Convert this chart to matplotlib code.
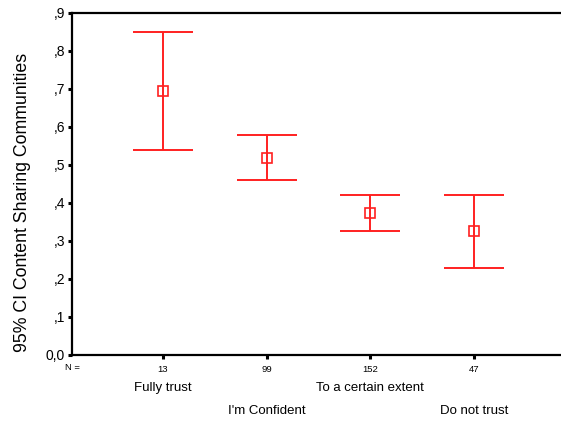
import matplotlib
matplotlib.use("Agg")
import matplotlib.pyplot as plt
from matplotlib.ticker import FixedLocator
from matplotlib.transforms import offset_copy, blended_transform_factory

plt.rcParams['font.family'] = ['Liberation Sans', 'DejaVu Sans']

categories = ["Fully trust", "I'm Confident", "To a certain extent", "Do not trust"]
n_values = ["13", "99", "152", "47"]
means = [0.696, 0.518, 0.374, 0.327]
lower = [0.539, 0.461, 0.327, 0.230]
upper = [0.849, 0.578, 0.421, 0.421]
yticks = [0.0, 0.1, 0.2, 0.3, 0.4, 0.5, 0.6, 0.7, 0.8, 0.9]
ytick_labels = ["0,0", ",1", ",2", ",3", ",4", ",5", ",6", ",7", ",8", ",9"]
ylabel = "95% CI Content Sharing Communities"

W, H = 561, 421
fig = plt.figure(figsize=(W / 100, H / 100), dpi=100)
left, right, top, bottom = 72, 561, 13, 355
ax = fig.add_axes([left / W, (H - bottom) / H, (right - left) / W, (bottom - top) / H])

xs = list(range(1, len(categories) + 1))
red = '#ff2020'
for x, m, lo, hi in zip(xs, means, lower, upper):
    ax.errorbar([x], [m], yerr=[[m - lo], [hi - m]], fmt='none', ecolor=red,
                elinewidth=1.4, capsize=21.5, capthick=1.4)
ax.plot(xs, means, linestyle='none', marker='s', markersize=7.5,
        markerfacecolor='none', markeredgecolor=red, markeredgewidth=1.2)

ax.set_xlim(1 - 91 / 103.67, 4 + 87 / 103.67)
ax.set_ylim(0, 0.9)

ax.spines['right'].set_visible(False)
for s in ['left', 'bottom', 'top']:
    ax.spines[s].set_linewidth(1.6)

ax.yaxis.set_major_locator(FixedLocator(yticks))
ax.set_yticklabels(ytick_labels, fontsize=10)
ax.tick_params(axis='y', length=3, width=2.2, pad=2)
ax.set_xticks(xs)
ax.set_xticklabels(n_values, fontsize=6.8)
ax.tick_params(axis='x', length=3, width=2.2, pad=4)

trans_n = offset_copy(ax.transAxes, fig=fig, x=0, y=-13, units='dots')
ax.text(0, 0, "N =", transform=trans_n, fontsize=6.8, ha='center', va='center')

for i, (x, cat) in enumerate(zip(xs, categories)):
    dy = -33 if i % 2 == 0 else -56
    tr = offset_copy(blended_transform_factory(ax.transData, ax.transAxes), fig=fig, x=0, y=dy, units='dots')
    ax.text(x, 0, cat, transform=tr, fontsize=9.5, ha='center', va='center')

fig.text(23 / W, (H - 202) / H, ylabel, rotation=90, fontsize=12.8, ha='center', va='center')

fig.savefig("out.png", dpi=100)
